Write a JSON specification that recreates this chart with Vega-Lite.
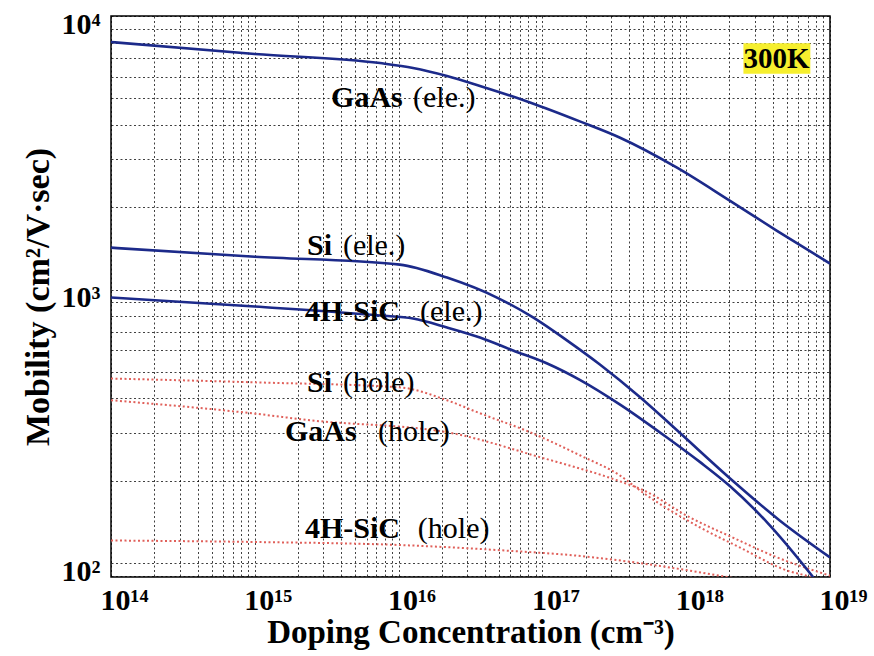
{
  "$schema": "https://vega.github.io/schema/vega-lite/v6.json",
  "width": 719,
  "height": 561,
  "autosize": {"type": "none"},
  "padding": {"left": 111, "top": 16, "right": 44, "bottom": 79},
  "background": "white",
  "config": {"view": {"stroke": "#000", "strokeWidth": 1.5}, "font": "Liberation Serif"},
  "datasets": {
    "curves": [
      {"series": "GaAs ele", "carrier": "ele", "N": 1e14, "mu": 8030},
      {"series": "GaAs ele", "carrier": "ele", "N": 1e15, "mu": 7265},
      {"series": "GaAs ele", "carrier": "ele", "N": 7.43e15, "mu": 6730},
      {"series": "GaAs ele", "carrier": "ele", "N": 1.26e16, "mu": 6460},
      {"series": "GaAs ele", "carrier": "ele", "N": 2.17e16, "mu": 6040},
      {"series": "GaAs ele", "carrier": "ele", "N": 3.68e16, "mu": 5553},
      {"series": "GaAs ele", "carrier": "ele", "N": 8.2e16, "mu": 4831},
      {"series": "GaAs ele", "carrier": "ele", "N": 1.82e17, "mu": 4120},
      {"series": "GaAs ele", "carrier": "ele", "N": 3.47e17, "mu": 3590},
      {"series": "GaAs ele", "carrier": "ele", "N": 8.63e17, "mu": 2790},
      {"series": "GaAs ele", "carrier": "ele", "N": 2.02e18, "mu": 2110},
      {"series": "GaAs ele", "carrier": "ele", "N": 4.28e18, "mu": 1640},
      {"series": "GaAs ele", "carrier": "ele", "N": 1e19, "mu": 1245},
      {"series": "Si ele", "carrier": "ele", "N": 1e14, "mu": 1423},
      {"series": "Si ele", "carrier": "ele", "N": 1e15, "mu": 1319},
      {"series": "Si ele", "carrier": "ele", "N": 1.02e16, "mu": 1234},
      {"series": "Si ele", "carrier": "ele", "N": 2.17e16, "mu": 1106},
      {"series": "Si ele", "carrier": "ele", "N": 4.83e16, "mu": 935},
      {"series": "Si ele", "carrier": "ele", "N": 8.61e16, "mu": 791},
      {"series": "Si ele", "carrier": "ele", "N": 1.48e17, "mu": 652},
      {"series": "Si ele", "carrier": "ele", "N": 2.51e17, "mu": 532},
      {"series": "Si ele", "carrier": "ele", "N": 4.78e17, "mu": 404},
      {"series": "Si ele", "carrier": "ele", "N": 8.63e17, "mu": 306},
      {"series": "Si ele", "carrier": "ele", "N": 2.02e18, "mu": 204},
      {"series": "Si ele", "carrier": "ele", "N": 4.49e18, "mu": 143},
      {"series": "Si ele", "carrier": "ele", "N": 1e19, "mu": 105},
      {"series": "SiC ele", "carrier": "ele", "N": 1e14, "mu": 935},
      {"series": "SiC ele", "carrier": "ele", "N": 1e15, "mu": 867},
      {"series": "SiC ele", "carrier": "ele", "N": 7.43e15, "mu": 804},
      {"series": "SiC ele", "carrier": "ele", "N": 1.26e16, "mu": 784},
      {"series": "SiC ele", "carrier": "ele", "N": 2.17e16, "mu": 727},
      {"series": "SiC ele", "carrier": "ele", "N": 3.68e16, "mu": 668},
      {"series": "SiC ele", "carrier": "ele", "N": 6.25e16, "mu": 599},
      {"series": "SiC ele", "carrier": "ele", "N": 1.08e17, "mu": 537},
      {"series": "SiC ele", "carrier": "ele", "N": 1.82e17, "mu": 468},
      {"series": "SiC ele", "carrier": "ele", "N": 3.47e17, "mu": 380},
      {"series": "SiC ele", "carrier": "ele", "N": 7.35e17, "mu": 288},
      {"series": "SiC ele", "carrier": "ele", "N": 1.25e18, "mu": 234},
      {"series": "SiC ele", "carrier": "ele", "N": 2.02e18, "mu": 191},
      {"series": "SiC ele", "carrier": "ele", "N": 3.65e18, "mu": 141},
      {"series": "SiC ele", "carrier": "ele", "N": 7.62e18, "mu": 89},
      {"series": "SiC ele", "carrier": "ele", "N": 1e19, "mu": 74},
      {"series": "Si hole", "carrier": "hole", "N": 1e14, "mu": 473},
      {"series": "Si hole", "carrier": "hole", "N": 1e15, "mu": 458},
      {"series": "Si hole", "carrier": "hole", "N": 1.02e16, "mu": 439},
      {"series": "Si hole", "carrier": "hole", "N": 2.17e16, "mu": 394},
      {"series": "Si hole", "carrier": "hole", "N": 3.68e16, "mu": 353},
      {"series": "Si hole", "carrier": "hole", "N": 8.2e16, "mu": 301},
      {"series": "Si hole", "carrier": "hole", "N": 1.82e17, "mu": 248},
      {"series": "Si hole", "carrier": "hole", "N": 3.47e17, "mu": 209},
      {"series": "Si hole", "carrier": "hole", "N": 5.01e17, "mu": 181},
      {"series": "Si hole", "carrier": "hole", "N": 1.25e18, "mu": 135},
      {"series": "Si hole", "carrier": "hole", "N": 2.37e18, "mu": 114},
      {"series": "Si hole", "carrier": "hole", "N": 5.02e18, "mu": 94},
      {"series": "Si hole", "carrier": "hole", "N": 7.26e18, "mu": 89},
      {"series": "Si hole", "carrier": "hole", "N": 1e19, "mu": 82},
      {"series": "GaAs hole", "carrier": "hole", "N": 1e14, "mu": 394},
      {"series": "GaAs hole", "carrier": "hole", "N": 1e15, "mu": 352},
      {"series": "GaAs hole", "carrier": "hole", "N": 2.42e15, "mu": 333},
      {"series": "GaAs hole", "carrier": "hole", "N": 2.17e16, "mu": 301},
      {"series": "GaAs hole", "carrier": "hole", "N": 9.62e16, "mu": 244},
      {"series": "GaAs hole", "carrier": "hole", "N": 3.47e17, "mu": 199},
      {"series": "GaAs hole", "carrier": "hole", "N": 5.01e17, "mu": 185},
      {"series": "GaAs hole", "carrier": "hole", "N": 1.06e18, "mu": 147},
      {"series": "GaAs hole", "carrier": "hole", "N": 2.11e18, "mu": 124},
      {"series": "GaAs hole", "carrier": "hole", "N": 4.28e18, "mu": 105},
      {"series": "GaAs hole", "carrier": "hole", "N": 1e19, "mu": 90},
      {"series": "SiC hole", "carrier": "hole", "N": 1e14, "mu": 121},
      {"series": "SiC hole", "carrier": "hole", "N": 1e15, "mu": 119.5},
      {"series": "SiC hole", "carrier": "hole", "N": 1.02e16, "mu": 116.5},
      {"series": "SiC hole", "carrier": "hole", "N": 5.07e16, "mu": 111.5},
      {"series": "SiC hole", "carrier": "hole", "N": 1.91e17, "mu": 106},
      {"series": "SiC hole", "carrier": "hole", "N": 4.78e17, "mu": 100},
      {"series": "SiC hole", "carrier": "hole", "N": 1.92e18, "mu": 89},
      {"series": "SiC hole", "carrier": "hole", "N": 1e19, "mu": 75}
    ],
    "names": [
      {"text": "GaAs", "N": 3.39e15, "mu": 5020},
      {"text": "Si", "N": 2.31e15, "mu": 1448},
      {"text": "4H-SiC", "N": 2.23e15, "mu": 831},
      {"text": "Si", "N": 2.31e15, "mu": 454},
      {"text": "GaAs", "N": 1.62e15, "mu": 301},
      {"text": "4H-SiC", "N": 2.23e15, "mu": 133}
    ],
    "carriers": [
      {"text": "(ele.)", "N": 1.26e16, "mu": 5020},
      {"text": "(ele.)", "N": 4.1e15, "mu": 1448},
      {"text": "(ele.)", "N": 1.41e16, "mu": 831},
      {"text": "(hole)", "N": 4.1e15, "mu": 454},
      {"text": "(hole)", "N": 7.19e15, "mu": 301},
      {"text": "(hole)", "N": 1.36e16, "mu": 133}
    ],
    "box": [
      {"text": "300K", "N": 2.5e18, "N2": 7.3e18, "mu": 7950, "mu2": 6150, "Nc": 4.25e18, "muc": 6980}
    ]
  },
  "layer": [
    {
      "data": {"name": "curves"},
      "transform": [{"filter": "datum.carrier == 'hole'"}],
      "mark": {"type": "line", "clip": true, "interpolate": "monotone", "color": "#e0605a", "strokeWidth": 2, "strokeDash": [2, 2.5]},
      "encoding": {
        "x": {
          "field": "N", "type": "quantitative",
          "scale": {"type": "log", "domain": [1e14, 1e19], "nice": false},
          "axis": {
            "title": "Doping Concentration (cm⁻³)",
            "values": [1e14, 2e14, 3e14, 4e14, 5e14, 6e14, 7e14, 8e14, 9e14, 1e15, 2e15, 3e15, 4e15, 5e15, 6e15, 7e15, 8e15, 9e15, 1e16, 2e16, 3e16, 4e16, 5e16, 6e16, 7e16, 8e16, 9e16, 1e17, 2e17, 3e17, 4e17, 5e17, 6e17, 7e17, 8e17, 9e17, 1e18, 2e18, 3e18, 4e18, 5e18, 6e18, 7e18, 8e18, 9e18, 1e19],
            "labelExpr": "datum.value == 1e14 ? '10¹⁴' : datum.value == 1e15 ? '10¹⁵' : datum.value == 1e16 ? '10¹⁶' : datum.value == 1e17 ? '10¹⁷' : datum.value == 1e18 ? '10¹⁸' : datum.value == 1e19 ? '10¹⁹' : ''",
            "grid": true, "gridColor": "#000", "gridDash": [2, 2.5], "gridOpacity": 0.75, "gridWidth": 1,
            "ticks": false, "domain": false,
            "labelFont": "Liberation Serif", "labelFontWeight": "bold", "labelFontSize": 30, "labelColor": "#000",
            "labelPadding": 8, "labelOffset": 13, "labelFlush": false, "labelOverlap": false,
            "titleFont": "Liberation Serif", "titleFontWeight": "bold", "titleFontSize": 33, "titleColor": "#000", "titlePadding": 1
          }
        },
        "y": {
          "field": "mu", "type": "quantitative",
          "scale": {"type": "log", "domain": [89, 10000], "nice": false},
          "axis": {
            "title": "Mobility (cm²/V·sec)",
            "values": [90, 100, 200, 300, 400, 500, 600, 700, 800, 900, 1000, 2000, 3000, 4000, 5000, 6000, 7000, 8000, 9000, 10000],
            "labelExpr": "datum.value == 100 ? '10²' : datum.value == 1000 ? '10³' : datum.value == 10000 ? '10⁴' : ''",
            "grid": true, "gridColor": "#000", "gridDash": [2, 2.5], "gridOpacity": 0.75, "gridWidth": 1,
            "ticks": false, "domain": false,
            "labelFont": "Liberation Serif", "labelFontWeight": "bold", "labelFontSize": 30, "labelColor": "#000",
            "labelPadding": 11, "labelOffset": 8, "labelFlush": false, "labelOverlap": false,
            "titleFont": "Liberation Serif", "titleFontWeight": "bold", "titleFontSize": 34, "titleColor": "#000", "titlePadding": 6
          }
        },
        "detail": {"field": "series"},
        "order": {"field": "N", "type": "quantitative"}
      }
    },
    {
      "data": {"name": "curves"},
      "transform": [{"filter": "datum.carrier == 'ele'"}],
      "mark": {"type": "line", "clip": true, "interpolate": "monotone", "color": "#1c2a8a", "strokeWidth": 2.6},
      "encoding": {
        "x": {"field": "N", "type": "quantitative", "scale": {"type": "log", "domain": [1e14, 1e19], "nice": false}},
        "y": {"field": "mu", "type": "quantitative", "scale": {"type": "log", "domain": [89, 10000], "nice": false}},
        "detail": {"field": "series"},
        "order": {"field": "N", "type": "quantitative"}
      }
    },
    {
      "data": {"name": "names"},
      "mark": {"type": "text", "align": "left", "baseline": "middle", "font": "Liberation Serif", "fontWeight": "bold", "fontSize": 30, "color": "#000"},
      "encoding": {
        "x": {"field": "N", "type": "quantitative", "scale": {"type": "log", "domain": [1e14, 1e19], "nice": false}},
        "y": {"field": "mu", "type": "quantitative", "scale": {"type": "log", "domain": [89, 10000], "nice": false}},
        "text": {"field": "text"}
      }
    },
    {
      "data": {"name": "carriers"},
      "mark": {"type": "text", "align": "left", "baseline": "middle", "font": "Liberation Serif", "fontWeight": "normal", "fontSize": 30, "color": "#000"},
      "encoding": {
        "x": {"field": "N", "type": "quantitative", "scale": {"type": "log", "domain": [1e14, 1e19], "nice": false}},
        "y": {"field": "mu", "type": "quantitative", "scale": {"type": "log", "domain": [89, 10000], "nice": false}},
        "text": {"field": "text"}
      }
    },
    {
      "data": {"name": "box"},
      "mark": {"type": "rect", "color": "#f6ef2e"},
      "encoding": {
        "x": {"field": "N", "type": "quantitative", "scale": {"type": "log", "domain": [1e14, 1e19], "nice": false}},
        "x2": {"field": "N2"},
        "y": {"field": "mu", "type": "quantitative", "scale": {"type": "log", "domain": [89, 10000], "nice": false}},
        "y2": {"field": "mu2"}
      }
    },
    {
      "data": {"name": "box"},
      "mark": {"type": "text", "align": "center", "baseline": "middle", "font": "Liberation Serif", "fontWeight": "bold", "fontSize": 29, "color": "#000"},
      "encoding": {
        "x": {"field": "Nc", "type": "quantitative", "scale": {"type": "log", "domain": [1e14, 1e19], "nice": false}},
        "y": {"field": "muc", "type": "quantitative", "scale": {"type": "log", "domain": [89, 10000], "nice": false}},
        "text": {"field": "text"}
      }
    }
  ]
}
